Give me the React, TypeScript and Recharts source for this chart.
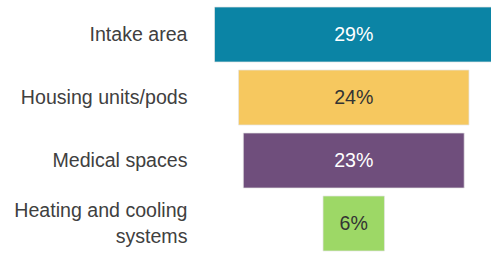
import { BarChart, Bar, XAxis, YAxis, Cell, LabelList } from "recharts";

const categories = ["Intake area", "Housing units/pods", "Medical spaces", "Heating and cooling systems"];
const shares = [29, 24, 23, 6.4];
const barColors = ["#0B84A5", "#F6C85F", "#6F4E7C", "#9DD866"];
const labelColors = ["#ffffff", "#333333", "#ffffff", "#333333"];

const MAX = 29;
const FONT = "'Liberation Sans', Arial, sans-serif";

// funnel: an invisible pad bar pushes each bar so they are all centred
const data = categories.map((name, i) => ({
  name,
  pad: (MAX - shares[i]) / 2,
  value: shares[i],
}));

function wrap(text: string, maxChars: number) {
  const words = text.split(" ");
  const lines: string[] = [];
  let cur = "";
  for (const w of words) {
    const next = cur ? cur + " " + w : w;
    if (next.length > maxChars && cur) {
      lines.push(cur);
      cur = w;
    } else {
      cur = next;
    }
  }
  if (cur) lines.push(cur);
  return lines;
}

function CategoryTick(props: any) {
  const { x, y, payload } = props;
  const lines = wrap(payload.value, 20);
  const lh = 26;
  const start = -((lines.length - 1) * lh) / 2;
  return (
    <text x={x} y={y} textAnchor="end" fill="#404040" fontSize={19.6} fontFamily={FONT}>
      {lines.map((l, i) => (
        <tspan key={i} x={x} y={y + start + i * lh} dy="0.35em">
          {l}
        </tspan>
      ))}
    </text>
  );
}

function ValueLabel(props: any) {
  const { x, y, width, height, index, value } = props;
  return (
    <text
      x={x + width / 2}
      y={y + height / 2}
      dy="0.35em"
      textAnchor="middle"
      fill={labelColors[index]}
      fontSize={19.6}
      fontFamily={FONT}
    >
      {Math.round(value)}%
    </text>
  );
}

export default function App() {
  return (
    <div style={{ position: "absolute", left: 0, top: 0, width: 491, height: 253, overflow: "hidden", background: "#fff" }}>
      <BarChart
        width={500}
        height={255}
        data={data}
        layout="vertical"
        margin={{ top: 3, right: 7, bottom: 0, left: 0 }}
        barSize={55}
      >
        <XAxis type="number" domain={[0, MAX]} hide />
        <YAxis
          type="category"
          dataKey="name"
          width={214.5}
          axisLine={false}
          tickLine={false}
          tickSize={0}
          tickMargin={27}
          tick={<CategoryTick />}
        />
        <Bar dataKey="pad" stackId="f" fill="transparent" isAnimationActive={false} />
        <Bar
          dataKey="value"
          stackId="f"
          stroke="#e6e6e6"
          strokeOpacity={0.7}
          strokeWidth={1}
          isAnimationActive={false}
        >
          {data.map((_, i) => (
            <Cell key={i} fill={barColors[i]} />
          ))}
          <LabelList dataKey="value" content={<ValueLabel />} />
        </Bar>
      </BarChart>
    </div>
  );
}
